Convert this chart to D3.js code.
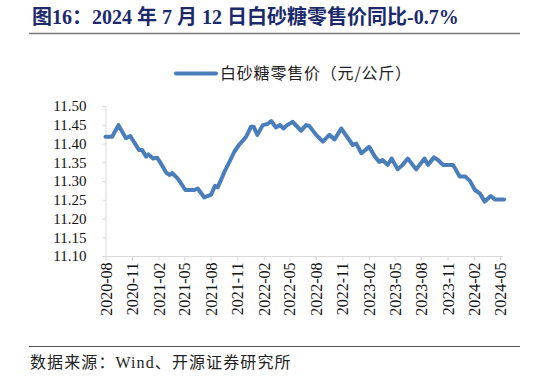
<!DOCTYPE html>
<html>
<head>
<meta charset="utf-8">
<script src="https://cdn.jsdelivr.net/npm/d3@7/dist/d3.min.js"></script>
<style>
  html, body { margin: 0; padding: 0; background: #fff; }
  svg { display: block; }
</style>
</head>
<body>
<svg id="chart" width="546" height="377"></svg>
<script>
// ---- Data ----
const titleText = "图16：2024 年 7 月 12 日白砂糖零售价同比-0.7%";
const seriesName = "白砂糖零售价（元/公斤）";
const sourceText = "数据来源：Wind、开源证券研究所";

const dates = [
  "2020-08-01","2020-08-24","2020-09-15","2020-10-11","2020-10-26","2020-11-25","2020-12-06","2020-12-20",
  "2020-12-28","2021-01-13","2021-01-27","2021-02-06","2021-02-28","2021-03-12","2021-03-21","2021-04-08",
  "2021-04-20","2021-05-05","2021-05-25","2021-06-05","2021-06-17","2021-07-10","2021-07-21","2021-08-02",
  "2021-08-16","2021-08-25","2021-09-06","2021-09-18","2021-10-05","2021-10-22","2021-11-07","2021-11-20",
  "2021-12-02","2021-12-19","2021-12-28","2022-01-10","2022-01-29","2022-02-14","2022-02-27","2022-03-15",
  "2022-03-30","2022-04-11","2022-04-23","2022-05-07","2022-05-12","2022-06-11","2022-06-28","2022-07-09",
  "2022-08-02","2022-08-25","2022-09-17","2022-10-05","2022-10-28","2022-12-07","2022-12-19","2023-01-06",
  "2023-02-02","2023-02-22","2023-03-09","2023-03-20","2023-04-07","2023-04-21","2023-05-12","2023-05-29",
  "2023-06-16","2023-07-15","2023-08-13","2023-08-25","2023-09-15","2023-09-29","2023-10-16","2023-11-20",
  "2023-12-13","2024-01-01","2024-01-17","2024-02-04","2024-02-21","2024-03-09","2024-03-30","2024-04-13",
  "2024-05-15"
];
const prices = [
  11.418,11.418,11.449,11.414,11.420,11.383,11.383,11.365,
  11.371,11.360,11.362,11.351,11.322,11.316,11.321,11.307,
  11.294,11.276,11.276,11.276,11.280,11.256,11.260,11.263,
  11.287,11.283,11.303,11.325,11.351,11.378,11.396,11.407,
  11.418,11.445,11.445,11.423,11.449,11.452,11.460,11.443,
  11.449,11.440,11.449,11.455,11.458,11.434,11.449,11.447,
  11.423,11.405,11.423,11.411,11.440,11.396,11.400,11.374,
  11.391,11.365,11.351,11.356,11.343,11.360,11.331,11.343,
  11.360,11.331,11.360,11.343,11.363,11.356,11.343,11.343,
  11.312,11.312,11.301,11.276,11.267,11.245,11.260,11.251,
  11.251
];
const xTickLabels = ["2020-08","2020-11","2021-02","2021-05","2021-08","2021-11","2022-02","2022-05",
  "2022-08","2022-11","2023-02","2023-05","2023-08","2023-11","2024-02","2024-05"];
const yTicks = [11.10,11.15,11.20,11.25,11.30,11.35,11.40,11.45,11.50];

// ---- Drawing ----
const svg = d3.select("#chart");
const parseDay = d3.timeParse("%Y-%m-%d");
const parseMonth = d3.timeParse("%Y-%m");
const data = dates.map((d, i) => ({ date: parseDay(d), value: prices[i] }));

const latin = "'Liberation Serif', 'Times New Roman', 'Noto Sans CJK SC', serif";

const x = d3.scaleTime()
  .domain([parseMonth(xTickLabels[0]), parseMonth(xTickLabels[xTickLabels.length - 1])])
  .range([105.5, 500]);
const y = d3.scaleLinear().domain([11.10, 11.50]).range([256, 106]);

// Title
svg.append("text")
  .attr("x", 32).attr("y", 24)
  .attr("font-family", latin)
  .attr("font-weight", "bold")
  .attr("font-size", 20)
  .attr("fill", "#1b2a6b")
  .text(titleText);
svg.append("line")
  .attr("x1", 29).attr("x2", 520).attr("y1", 33.5).attr("y2", 33.5)
  .attr("stroke", "#777").attr("stroke-width", 1.5);

// Legend
svg.append("line")
  .attr("x1", 176).attr("x2", 216).attr("y1", 73.5).attr("y2", 73.5)
  .attr("stroke", "#4a7ebb").attr("stroke-width", 4).attr("stroke-linecap", "round");
svg.append("text")
  .attr("x", 220).attr("y", 79)
  .attr("font-family", "'Noto Sans CJK SC', sans-serif")
  .attr("font-size", 16)
  .attr("letter-spacing", 0.8)
  .attr("fill", "#222")
  .text(seriesName);

// Y axis
const yAxis = d3.axisLeft(y).tickValues(yTicks).tickFormat(d3.format(".2f")).tickSize(3).tickPadding(16);
const gy = svg.append("g").attr("transform", "translate(105.5,0)").call(yAxis);
gy.select(".domain").attr("stroke", "#d9d9d9");
gy.selectAll(".tick line").attr("stroke", "#d9d9d9");
gy.selectAll(".tick text").attr("font-family", latin).attr("font-size", 15).attr("fill", "#111");

// X axis
const xAxis = d3.axisBottom(x)
  .tickValues(xTickLabels.map(parseMonth))
  .tickFormat(d3.timeFormat("%Y-%m"))
  .tickSize(4).tickSizeOuter(0);
const gx = svg.append("g").attr("transform", "translate(0,256.5)").call(xAxis);
gx.select(".domain").remove();
gx.append("line").attr("x1", 105.5).attr("x2", 503).attr("y1", 0).attr("y2", 0).attr("stroke", "#d9d9d9");
gx.selectAll(".tick line").attr("stroke", "#d9d9d9");
gx.selectAll(".tick text")
  .attr("font-family", latin).attr("font-size", 16).attr("fill", "#111")
  .attr("text-anchor", "end")
  .attr("transform", "rotate(-90)")
  .attr("x", -6).attr("y", 0).attr("dy", "0.35em");

// Line
const line = d3.line().x(d => x(d.date)).y(d => y(d.value)).curve(d3.curveLinear);
svg.append("path")
  .datum(data)
  .attr("d", line)
  .attr("fill", "none")
  .attr("stroke", "#4a7ebb")
  .attr("stroke-width", 4)
  .attr("stroke-linejoin", "round")
  .attr("stroke-linecap", "round");

// Source
svg.append("line")
  .attr("x1", 29).attr("x2", 520).attr("y1", 346.5).attr("y2", 346.5)
  .attr("stroke", "#555").attr("stroke-width", 1);
svg.append("text")
  .attr("x", 30).attr("y", 368)
  .attr("font-family", latin)
  .attr("font-size", 16)
  .attr("letter-spacing", 1.1)
  .attr("fill", "#222")
  .text(sourceText);
</script>
</body>
</html>
